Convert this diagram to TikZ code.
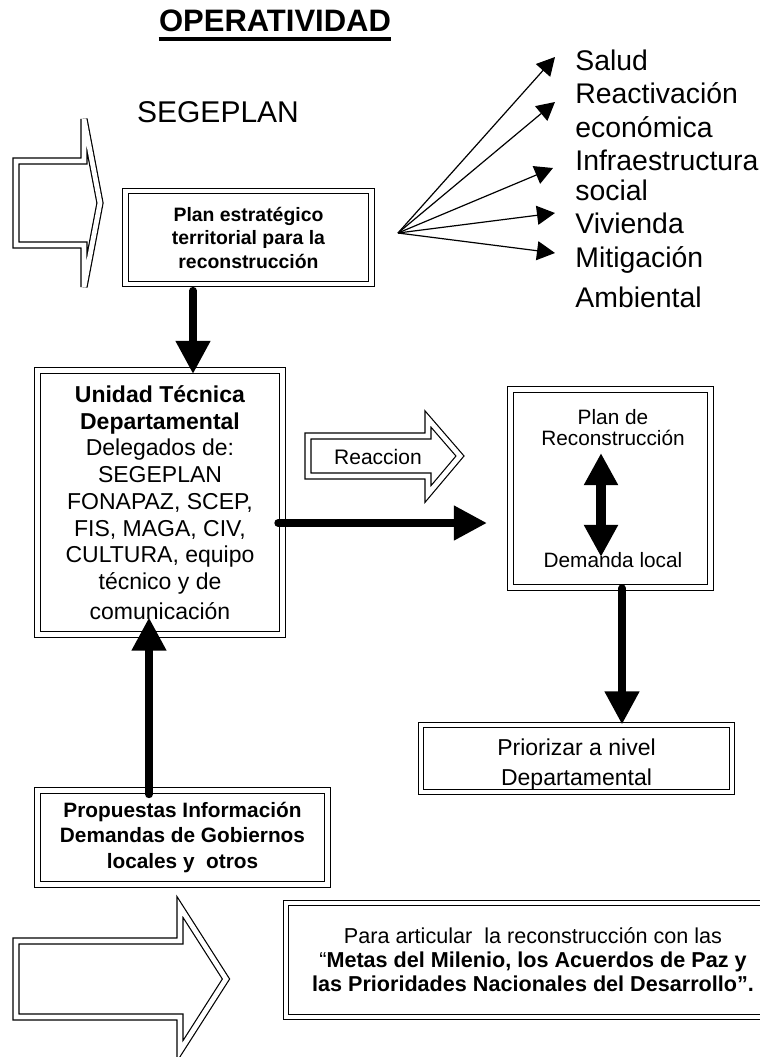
\documentclass[tikz,border=0pt]{standalone}
\usepackage{fontspec}
\setmainfont{Liberation Sans}
\usetikzlibrary{arrows.meta}
\newcommand{\fs}[2]{\fontsize{#1}{#2}\selectfont}
\tikzset{dbox/.style = {draw, double, double distance = 2.2pt, line width = 0.6pt,
                        inner sep = 0, align = center}}
\tikzset{bigarrow/.style = {draw, double, double distance = 2.4pt, line width = 0.6pt,
                            line join = miter}}
\tikzset{fanarrow/.style = {line width = 0.6pt, -{Triangle[length = 9pt, width = 9.5pt]}}}
\tikzset{fatarrow/.style = {line width = 3.75pt, line cap = round,
                            -{Triangle[length = 16.5pt, width = 16.5pt]}}}
\tikzset{fatboth/.style = {line width = 5pt,
                           {Triangle[length = 16pt, width = 16pt]}-{Triangle[length = 16pt, width = 16pt]}}}
\tikzset{item/.style = {anchor = base west, inner sep = 0, font = \fs{14.2}{16}}}

\begin{document}
\begin{tikzpicture}[x = 0.5pt, y = -0.5pt]
      \useasboundingbox (0, 0) rectangle (760, 1057);

      \node [inner sep = 0, font = \fs{15.5}{18}\bfseries] (title) at (275, 21) {OPERATIVIDAD};
      \draw [line width = 2pt] ([yshift = -3.5pt]title.base west) -- ([yshift = -3.5pt]title.base east);
      \node [font = \fs{15}{17}] (segeplan) at (218, 112) {SEGEPLAN};

      \draw [bigarrow] (16, 161) -- (84, 161) -- (84, 119) -- (100, 203) -- (84, 287)
                       -- (84, 245) -- (16, 245) -- cycle;

      \node [dbox, minimum width = 123pt, minimum height = 46.5pt, font = \fs{9.7}{11.75}\bfseries]
            (plan) at (248.5, 237.5) {Plan estratégico\\territorial para la\\reconstrucción};

      \node [item] (salud) at (575, 70) {Salud};
      \node [item] (reactiv) at (575, 103) {Reactivación};
      \node [item] (econ) at (575, 137) {económica};
      \node [item] (infra) at (575, 170) {Infraestructura};
      \node [item] (social) at (575, 200) {social};
      \node [item] (vivienda) at (575, 233) {Vivienda};
      \node [item] (mitig) at (575, 267) {Mitigación};
      \node [item] (ambiental) at (575, 307) {Ambiental};

      \coordinate (fan) at (398, 233);
      \coordinate (tsalud) at (555, 57);
      \coordinate (treactiv) at (555, 102);
      \coordinate (tinfra) at (553, 168);
      \coordinate (tvivienda) at (555, 213);
      \coordinate (tmitig) at (555, 253);
      \draw [fanarrow] (fan) -- (tsalud);
      \draw [fanarrow] (fan) -- (treactiv);
      \draw [fanarrow] (fan) -- (tinfra);
      \draw [fanarrow] (fan) -- (tvivienda);
      \draw [fanarrow] (fan) -- (tmitig);

      \node [dbox, minimum width = 122.5pt, minimum height = 132pt, font = \fs{11.5}{13.35}]
            (utd) at (160, 502.5) {\textbf{Unidad Técnica}\\\textbf{Departamental}\\Delegados de:\\SEGEPLAN\\FONAPAZ, SCEP,\\FIS, MAGA, CIV,\\CULTURA, equipo\\técnico y de\\[1.5pt]comunicación};

      \coordinate (down) at ([xshift = -27.75pt]plan.south);
      \draw [fatarrow, shorten <= 3pt, shorten >= -2pt] (down) -- (down |- utd.north);

      \draw [bigarrow] (308, 436) -- (428, 436) -- (428, 419) -- (460, 456) -- (428, 494)
                       -- (428, 476) -- (308, 476) -- cycle;
      \node [font = \fs{10.5}{12}] (reaccion) at (378, 457) {Reaccion};

      \node [dbox, minimum width = 100pt, minimum height = 99pt] (pr) at (610.5, 488.5) {};
      \node [inner sep = 0, align = center, font = \fs{10.4}{10.5}] (prtop) at (613, 427.5) {Plan de\\Reconstrucción};
      \node [inner sep = 0, font = \fs{10.4}{10.5}] (prdem) at (613, 560) {Demanda local};
      \draw [fatboth, shorten <= 3.5pt, shorten >= -2.5pt] ([xshift = -6pt]prtop.south) -- ([xshift = -6pt]prdem.north);

      \coordinate (side) at ([xshift = -2.5pt, yshift = -10.25pt]utd.east);
      \draw [fatarrow, shorten >= 11.5pt] (side) -- (side -| pr.west);

      \node [dbox, minimum width = 155.5pt, minimum height = 33.5pt, font = \fs{11.5}{15}]
            (prio) at (576.5, 758.5) {\rule{0pt}{14pt}Priorizar a nivel\\Departamental};
      \coordinate (prdown) at ([xshift = 5.75pt]pr.south);
      \draw [fatarrow] (prdown) -- (prdown |- prio.north);

      \node [dbox, minimum width = 145pt, minimum height = 47pt, font = \fs{10.4}{12.75}\bfseries]
            (prop) at (182.5, 837.5) {Propuestas Información\\Demandas de Gobiernos\\locales y\ \ otros};
      \coordinate (up) at ([xshift = -16.75pt, yshift = -2.25pt]prop.north);
      \draw [fatarrow, shorten >= -8.75pt] (up) -- (up |- utd.south);

      \draw [bigarrow] (16, 941) -- (180, 941) -- (180, 907) -- (226, 979) -- (180, 1051)
                       -- (180, 1017) -- (16, 1017) -- cycle;

      \node [dbox, minimum width = 247pt, minimum height = 57pt, font = \fs{10.8}{12}]
            (metas) at (533, 960) {Para articular\ \ la reconstrucción con las\\“\textbf{Metas del Milenio, los Acuerdos de Paz y}\\\textbf{las Prioridades Nacionales del Desarrollo”.}};
    \end{tikzpicture}
\end{document}
